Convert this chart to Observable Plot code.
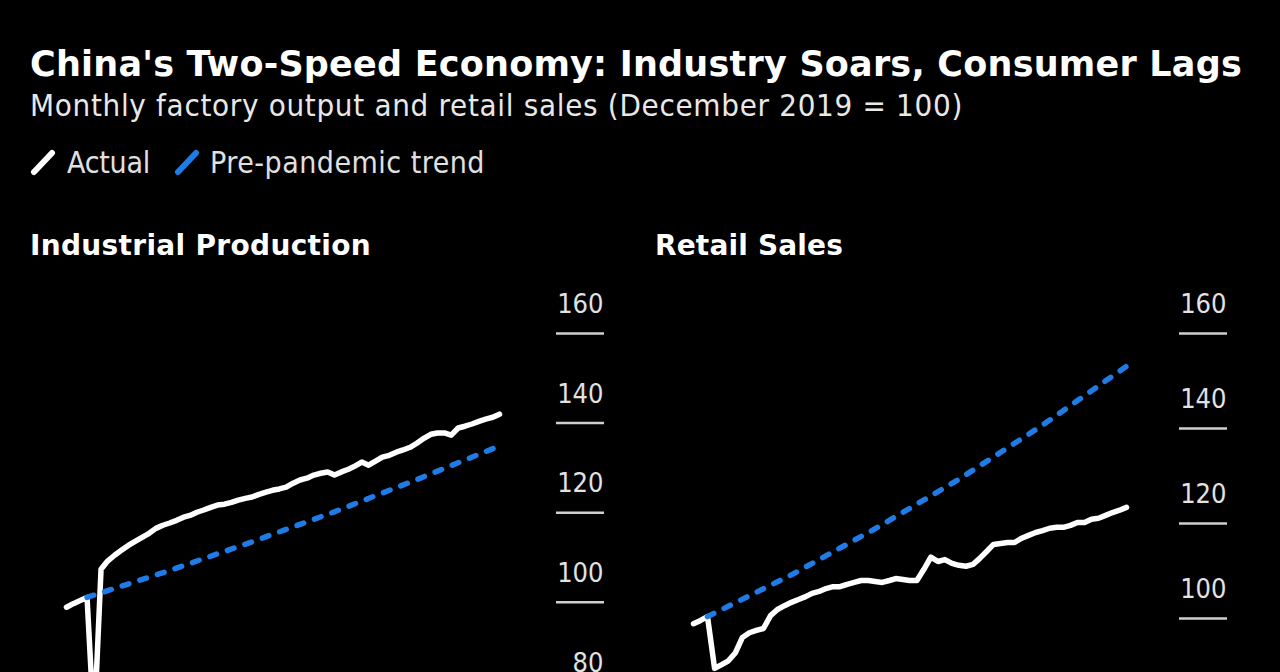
<!DOCTYPE html>
<html>
<head>
<meta charset="utf-8">
<script src="https://cdn.jsdelivr.net/npm/d3@7"></script>
<script src="https://cdn.jsdelivr.net/npm/@observablehq/plot@0.6"></script>
<style>
  html, body { margin: 0; padding: 0; background: #000; width: 1280px; height: 672px; overflow: hidden; }
  #root { position: relative; width: 1280px; height: 672px; overflow: hidden; background: #000; }
  .t { position: absolute; white-space: nowrap; line-height: 1; margin: 0; }
  .cond { font-family: "DejaVu Sans Condensed", "DejaVu Sans", sans-serif; font-stretch: condensed; }
  #title { left: 30px; top: 47px; font-family: "DejaVu Sans", sans-serif; font-weight: bold; font-size: 35px; color: #fff; }
  #subtitle { left: 30px; top: 90px; font-size: 31px; color: #e8e8e8; }
  .leg { top: 148px; font-size: 30px; color: #e0e0e0; }
  .swatch { position: absolute; top: 149px; }
  .ptitle { top: 232px; font-family: "DejaVu Sans", sans-serif; font-weight: bold; font-size: 28px; color: #fff; }
  .panel { position: absolute; top: 270px; }
</style>
</head>
<body>
<div id="root">
  <div class="t" id="title">China's Two-Speed Economy: Industry Soars, Consumer Lags</div>
  <div class="t cond" id="subtitle">Monthly factory output and retail sales (December 2019 = 100)</div>
  <svg class="swatch" style="left:29px" width="28" height="28"><line x1="5" y1="23" x2="23" y2="4" stroke="#fff" stroke-width="6" stroke-linecap="round"/></svg>
  <div class="t cond leg" id="legA" style="left:67px">Actual</div>
  <svg class="swatch" style="left:173px" width="28" height="28"><line x1="5" y1="23" x2="23" y2="4" stroke="#1f7be6" stroke-width="6" stroke-linecap="round"/></svg>
  <div class="t cond leg" id="legB" style="left:210px">Pre-pandemic trend</div>
  <div class="t ptitle" id="pt1" style="left:30px">Industrial Production</div>
  <div class="t ptitle" id="pt2" style="left:655px">Retail Sales</div>
  <div class="panel" id="left" style="left:0px"></div>
  <div class="panel" id="right" style="left:640px"></div>
</div>
<script>
// ---- Data ----
const ipStart = "2019-09";
const ipIndex = [98.9, 99.7, 100.4, 101.1, 72.0, 107.4, 109.2, 110.5, 111.6, 112.7, 113.6, 114.5, 115.4, 116.5, 117.2, 117.7,
  118.3, 119.0, 119.4, 120.1, 120.6, 121.2, 121.7, 121.9, 122.3, 122.8, 123.2, 123.5, 124.1, 124.6, 125.0, 125.3,
  125.7, 126.6, 127.3, 127.7, 128.4, 128.8, 129.1, 128.4, 129.1, 129.7, 130.4, 131.3, 130.6, 131.5, 132.4, 132.8,
  133.5, 134.0, 134.6, 135.5, 136.6, 137.5, 137.8, 137.8, 137.3, 138.9, 139.3, 139.8, 140.4, 140.9, 141.3, 142.0];

const retailStart = "2019-10";
const retailIndex = [98.9, 99.6, 100.4, 89.5, 90.3, 91.1, 92.8, 96.0, 97.0, 97.5, 97.9, 100.6, 101.9, 102.7, 103.4, 104.0,
  104.6, 105.3, 105.7, 106.3, 106.7, 106.7, 107.2, 107.6, 108.0, 108.0, 107.8, 107.6, 108.0, 108.4, 108.2, 108.0,
  108.0, 110.3, 112.9, 112.0, 112.4, 111.6, 111.2, 111.0, 111.4, 112.6, 114.1, 115.6, 115.8, 116.0, 116.0, 116.9,
  117.5, 118.1, 118.5, 119.0, 119.2, 119.2, 119.6, 120.2, 120.2, 120.9, 121.1, 121.7, 122.3, 122.8, 123.4];

const trendDates = ["2019-12", "2020-12", "2021-12", "2022-12", "2023-12", "2024-12"];
const ipTrend = [101.1, 107.1, 113.5, 120.2, 127.4, 134.9];
const retailTrend = [100.4, 109.2, 118.9, 129.3, 140.7, 153.1];

const ipTicks = [80, 100, 120, 140, 160];
const retailTicks = [100, 120, 140, 160];

// ---- Build tables ----
const parse = d3.utcParse("%Y-%m");
const monthly = (start, values) => values.map((v, i) => ({date: d3.utcMonth.offset(parse(start), i), value: v}));
const points = (dates, values) => dates.map((d, i) => ({date: parse(d), value: values[i]}));

const WHITE = "#ffffff";
const BLUE = "#1f7be6";

function panel({actual, trend, ticks, marginLeft, marginRight, insetRight, height}) {
  return Plot.plot({
    width: 640,
    height,
    marginTop: 63,
    marginBottom: 0,
    marginLeft,
    marginRight,
    x: {type: "utc", axis: null, insetRight},
    y: {domain: [60, 160]},
    style: {background: "transparent", color: "#e0e0e0", fontFamily: '"DejaVu Sans Condensed", "DejaVu Sans", sans-serif', fontStretch: "condensed", overflow: "visible"},
    marks: [
      // short tick lines at each value
      Plot.axisY({anchor: "right", ticks, tickSize: 48, tickFormat: () => "", stroke: "#cfcfcf", strokeWidth: 2.5, label: null}),
      // labels sitting above the tick lines
      Plot.axisY({anchor: "right", ticks, tickSize: 0, tickPadding: 48, textAnchor: "end", dy: -29,
        fontSize: 27, fill: "#e2e2e2", label: null}),
      Plot.lineY(actual, {x: "date", y: "value", stroke: WHITE, strokeWidth: 5.5, strokeLinejoin: "round", strokeLinecap: "round"}),
      Plot.lineY(trend, {x: "date", y: "value", stroke: BLUE, strokeWidth: 5.5, strokeDasharray: "7 11.5", strokeLinecap: "round"})
    ]
  });
}

document.getElementById("left").append(panel({
  actual: monthly(ipStart, ipIndex), trend: points(trendDates, ipTrend), ticks: ipTicks,
  marginLeft: 66, marginRight: 85, insetRight: 56, height: 511
}));
document.getElementById("right").append(panel({
  actual: monthly(retailStart, retailIndex), trend: points(trendDates, retailTrend), ticks: retailTicks,
  marginLeft: 53, marginRight: 102, insetRight: 52, height: 538
}));

// Fit header text widths to the reference
const targets = {title: 1212, subtitle: 933, legA: 83, legB: 275, pt1: 341, pt2: 188};
function fit() {
  for (const [id, w] of Object.entries(targets)) {
    const el = document.getElementById(id);
    el.style.letterSpacing = "0px";
    const cur = el.getBoundingClientRect().width;
    const n = el.textContent.length;
    el.style.letterSpacing = ((w - cur) / n).toFixed(3) + "px";
  }
}
fit();
if (document.fonts && document.fonts.ready) document.fonts.ready.then(fit);
</script>
</body>
</html>
